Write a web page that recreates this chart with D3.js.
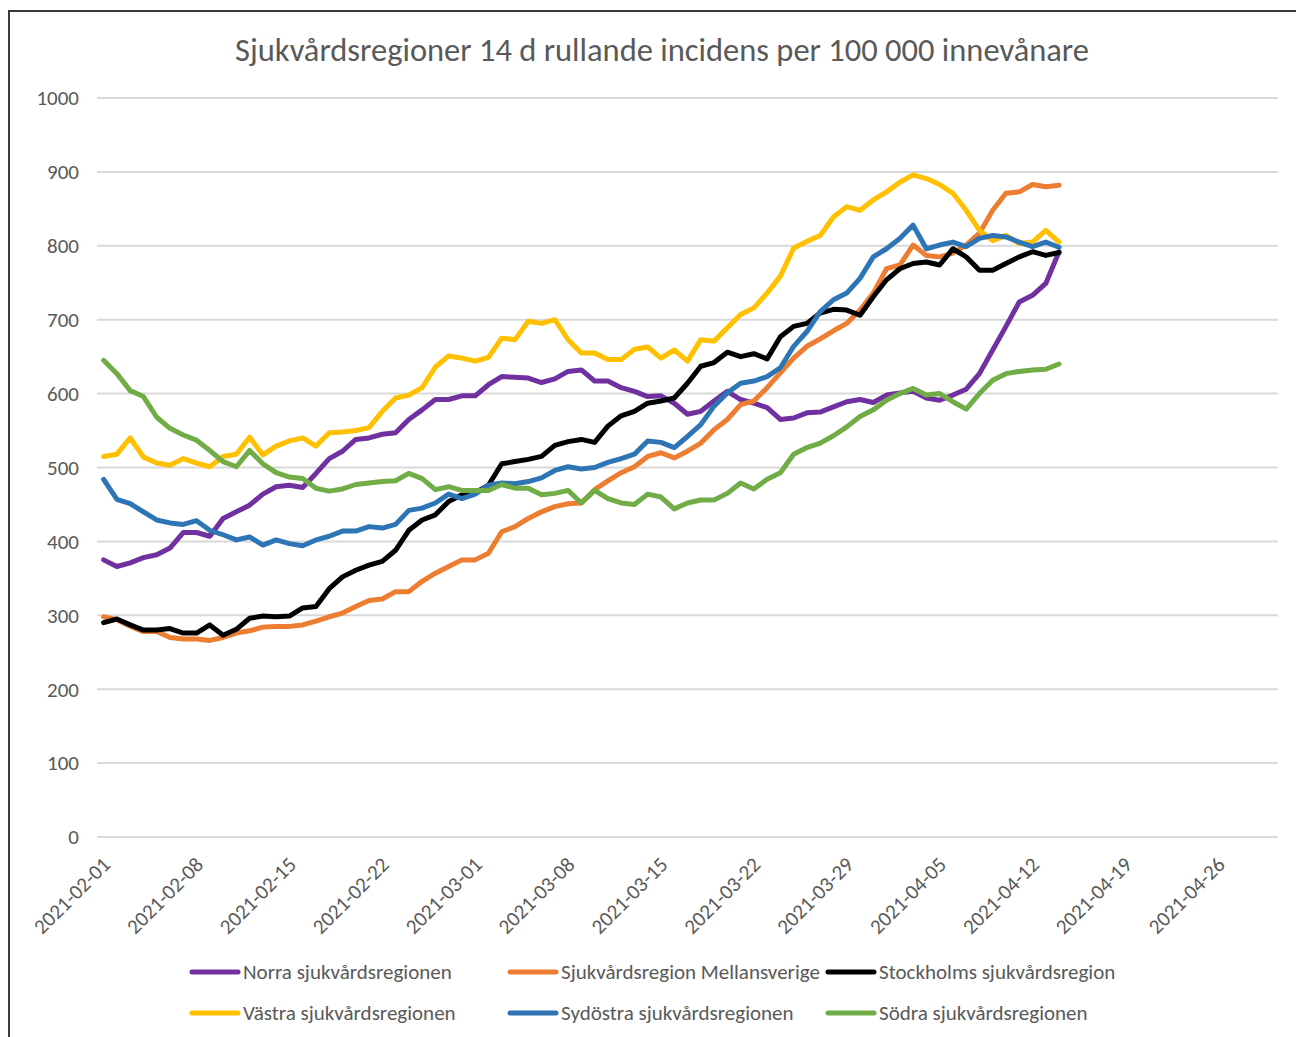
<!DOCTYPE html>
<html>
<head>
<meta charset="utf-8">
<script src="https://cdn.jsdelivr.net/npm/d3@7"></script>
<style>
  body { margin: 0; background: #fff; }
  text { font-family: Carlito, Calibri, "Open Sans", "Liberation Sans", sans-serif; fill: #595959; }
</style>
</head>
<body>
<div id="chart"></div>
<script>
const width = 1296;
const height = 1037;

// daily values 2021-02-01 .. 2021-04-14
const startDate = new Date(Date.UTC(2021, 1, 1));
const endDate = new Date(Date.UTC(2021, 3, 15));
const dates = d3.utcDay.range(startDate, endDate);

const norra = [375,366,371,378,382,391,412,412,407,431,440,449,464,474,476,473,492,512,522,
  538,540,545,547,565,578,592,592,597,597,612,623,622,621,615,620,630,632,617,
  617,608,603,596,597,587,572,576,590,603,592,587,581,565,567,574,575,582,
  589,592,588,598,601,603,594,591,598,606,627,659,691,724,733,749,792];
const mellan = [298,294,285,278,278,270,268,268,266,270,276,279,284,285,285,287,292,298,303,
  312,320,322,332,332,346,357,366,375,375,384,413,420,431,440,447,451,452,470,
  482,493,501,515,520,513,522,533,551,565,585,590,608,628,648,664,674,685,
  695,713,736,769,774,801,787,785,790,801,817,848,871,873,883,880,882];
const stockholm = [290,295,287,280,280,282,276,276,287,273,281,296,299,298,299,310,312,336,352,
  361,368,373,388,415,429,436,454,463,466,476,505,508,511,515,530,535,538,534,
  556,570,576,587,590,594,614,637,642,656,650,654,647,677,691,695,709,714,
  713,706,731,754,769,776,778,774,796,785,767,767,776,785,792,787,791];
const vastra = [515,518,540,514,506,503,512,506,501,515,518,541,517,529,536,540,529,547,548,
  550,554,576,594,598,608,636,651,648,644,649,675,673,698,695,700,673,655,655,
  646,646,660,663,648,659,644,673,671,689,707,716,736,759,797,806,814,839,
  853,848,862,873,886,896,891,883,871,848,821,807,814,803,805,821,805];
const sydostra = [484,457,451,440,429,425,423,428,415,409,402,406,395,402,397,394,402,407,414,
  414,420,418,423,442,445,452,464,458,464,476,479,478,481,486,496,501,498,500,
  507,512,518,536,534,527,542,558,583,601,614,617,623,635,664,684,711,727,
  736,756,785,796,810,828,796,801,805,799,810,814,812,805,799,805,798];
const sodra = [645,627,604,596,568,553,544,537,523,508,501,523,505,493,487,485,472,468,471,
  477,479,481,482,492,485,470,474,469,469,469,477,472,472,463,465,469,452,469,
  458,452,450,464,460,444,452,456,456,465,479,471,484,493,518,527,533,543,
  555,569,578,591,600,607,598,600,589,579,600,618,627,630,632,633,640];

const seriesNames = ["Norra sjukvårdsregionen", "Sjukvårdsregion Mellansverige", "Stockholms sjukvårdsregion",
  "Västra sjukvårdsregionen", "Sydöstra sjukvårdsregionen", "Södra sjukvårdsregionen"];
const seriesValues = [norra, mellan, stockholm, vastra, sydostra, sodra];
const colors = ["#7030A0", "#ED7D31", "#000000", "#FFC000", "#2E75B6", "#70AD47"];

const yTicks = [0, 100, 200, 300, 400, 500, 600, 700, 800, 900, 1000];
const xTicks = d3.utcDay.range(startDate, new Date(Date.UTC(2021, 3, 27)), 7);

const svg = d3.select("#chart").append("svg")
    .attr("width", width)
    .attr("height", height);

// frame (only top and left visible in the screenshot)
svg.append("path")
    .attr("d", `M9,${height} L9,11 L${width},11`)
    .attr("fill", "none")
    .attr("stroke", "#3a3a3a")
    .attr("stroke-width", 2);

const x = d3.scaleUtc()
    .domain([new Date(Date.UTC(2021, 0, 31, 12)), new Date(Date.UTC(2021, 3, 30, 12))])
    .range([97, 1278]);

const y = d3.scaleLinear()
    .domain([0, 1000])
    .range([837, 98]);

svg.append("text")
    .attr("x", 662)
    .attr("y", 61)
    .attr("text-anchor", "middle")
    .style("font-size", "32.5px")
    .text("Sjukvårdsregioner 14 d rullande incidens per 100 000 innevånare");

// gridlines + y labels
const yAxis = svg.append("g");
yAxis.selectAll("line")
    .data(yTicks)
    .join("line")
    .attr("x1", 97)
    .attr("x2", 1278)
    .attr("y1", d => y(d))
    .attr("y2", d => y(d))
    .attr("stroke", "#d9d9d9")
    .attr("stroke-width", 2);
yAxis.selectAll("text")
    .data(yTicks)
    .join("text")
    .attr("x", 79)
    .attr("y", d => y(d))
    .attr("dy", "0.35em")
    .attr("text-anchor", "end")
    .style("font-size", "21px")
    .text(d => d);

// x labels
const fmt = d3.utcFormat("%Y-%m-%d");
svg.append("g").selectAll("text")
    .data(xTicks)
    .join("text")
    .attr("transform", d => `translate(${x(d) + 8},${866}) rotate(-45)`)
    .attr("text-anchor", "end")
    .style("font-size", "21px")
    .text(d => fmt(d));

const line = d3.line()
    .x((d, i) => x(dates[i]))
    .y(d => y(d));

svg.append("g").selectAll("path")
    .data(seriesValues)
    .join("path")
    .attr("d", d => line(d))
    .attr("fill", "none")
    .attr("stroke", (d, i) => colors[i])
    .attr("stroke-width", 5)
    .attr("stroke-linejoin", "round")
    .attr("stroke-linecap", "round");

// legend
const legendCols = [192, 510, 828];
const legendRows = [972, 1013];
const legend = svg.append("g").selectAll("g")
    .data(seriesNames)
    .join("g")
    .attr("transform", (d, i) => `translate(${legendCols[i % 3]},${legendRows[Math.floor(i / 3)]})`);
legend.append("line")
    .attr("x1", 0)
    .attr("x2", 46)
    .attr("stroke", (d, i) => colors[i])
    .attr("stroke-width", 5)
    .attr("stroke-linecap", "round");
legend.append("text")
    .attr("x", 51)
    .attr("dy", "0.35em")
    .style("font-size", "21px")
    .text(d => d);
</script>
</body>
</html>
